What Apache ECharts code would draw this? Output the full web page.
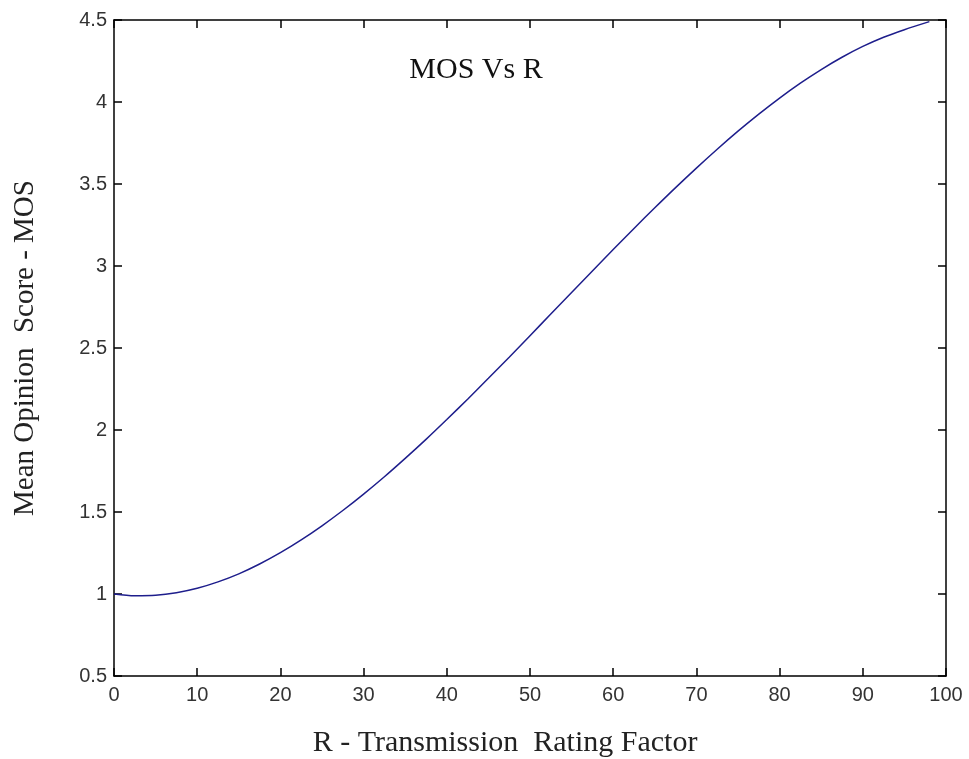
<!DOCTYPE html>
<html>
<head>
<meta charset="utf-8">
<script src="https://cdn.jsdelivr.net/npm/echarts@6/dist/echarts.min.js"></script>
<style>
    html, body { margin: 0; padding: 0; background: #fff; }
    #chart { width: 969px; height: 759px; }
</style>
</head>
<body>
<div id="chart"></div>
<script>
// values
var rValues = [0, 2.5, 5, 7.5, 10, 12.5, 15, 17.5, 20, 22.5, 25, 27.5, 30, 32.5, 35, 37.5, 40, 42.5, 45, 47.5,
               50, 52.5, 55, 57.5, 60, 62.5, 65, 67.5, 70, 72.5, 75, 77.5, 80, 82.5, 85, 87.5, 90, 92.5, 95, 98];
var mosValues = [1.0, 0.989, 0.992, 1.008, 1.035, 1.074, 1.123, 1.183, 1.252, 1.33, 1.416, 1.509, 1.609, 1.715, 1.827, 1.943, 2.064, 2.188, 2.315, 2.444,
                 2.575, 2.707, 2.838, 2.97, 3.1, 3.229, 3.355, 3.478, 3.597, 3.712, 3.822, 3.926, 4.024, 4.115, 4.198, 4.273, 4.339, 4.395, 4.441, 4.49];
var xTicks = [0, 100, 10];
var yTicks = [0.5, 4.5, 0.5];

var chart = echarts.init(document.getElementById('chart'));

var points = rValues.map(function (r, i) { return [r, mosValues[i]]; });

var serif = '"Liberation Serif", "DejaVu Serif", serif';
var sans = '"Liberation Sans", Arial, sans-serif';

function boxAxis(pos, range) {
    return {
        type: 'value',
        position: pos,
        min: range[0],
        max: range[1],
        interval: range[2],
        axisLine: { show: true, onZero: false, lineStyle: { color: '#000', width: 1.5 } },
        axisTick: { show: true, inside: true, length: 8, lineStyle: { color: '#000', width: 1.5 } },
        axisLabel: { show: false },
        splitLine: { show: false }
    };
}

var xMain = boxAxis('bottom', xTicks);
xMain.axisLabel = { show: true, color: '#333', fontFamily: sans, fontSize: 20, margin: 9 };
xMain.name = 'R - Transmission  Rating Factor';
xMain.nameLocation = 'middle';
xMain.nameGap = 52;
xMain.nameTextStyle = { color: '#222', fontFamily: serif, fontSize: 30, padding: [0, 50, 0, 0] };

var yMain = boxAxis('left', yTicks);
yMain.axisLabel = { show: true, color: '#333', fontFamily: sans, fontSize: 20, margin: 7 };
yMain.name = 'Mean Opinion  Score - MOS';
yMain.nameLocation = 'middle';
yMain.nameGap = 74;
yMain.nameTextStyle = { color: '#222', fontFamily: serif, fontSize: 29 };

chart.setOption({
    animation: false,
    backgroundColor: '#fff',
    title: {
        text: 'MOS Vs R',
        left: 471,
        top: 50,
        textAlign: 'center',
        textStyle: { color: '#111', fontFamily: serif, fontSize: 30, fontWeight: 'normal' }
    },
    grid: { left: 114, right: 23, top: 20, bottom: 83, outerBoundsMode: 'none' },
    xAxis: [xMain, boxAxis('top', xTicks)],
    yAxis: [yMain, boxAxis('right', yTicks)],
    series: [{
        type: 'line',
        data: points,
        smooth: 0.3,
        symbol: 'none',
        lineStyle: { color: '#1e1e8c', width: 1.5 }
    }]
});
</script>
</body>
</html>
